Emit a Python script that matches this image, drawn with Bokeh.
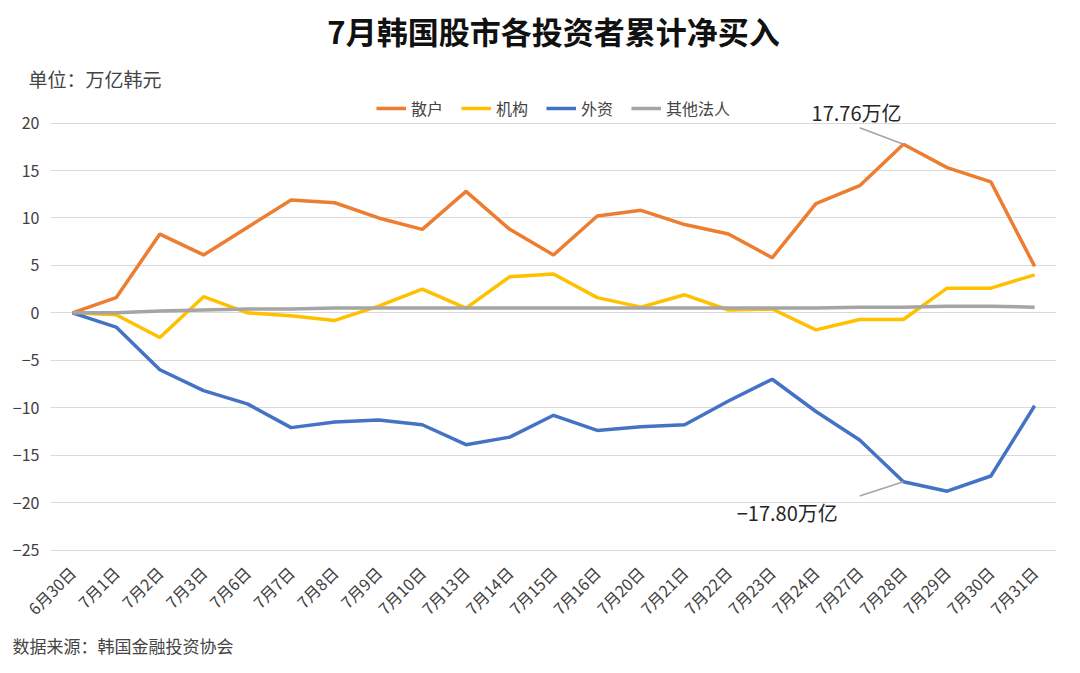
import math
from bokeh.plotting import figure
from bokeh.models import Title, Legend, LegendItem, Label, ColumnDataSource, FixedTicker, Range1d
from bokeh.embed import file_html
from bokeh.resources import INLINE

dates = ["6月30日","7月1日","7月2日","7月3日","7月6日","7月7日","7月8日","7月9日","7月10日","7月13日","7月14日","7月15日","7月16日","7月20日","7月21日","7月22日","7月23日","7月24日","7月27日","7月28日","7月29日","7月30日","7月31日"]
retail = [0, 1.6, 8.3, 6.1, 9.0, 11.9, 11.6, 10.0, 8.8, 12.8, 8.8, 6.1, 10.2, 10.8, 9.3, 8.3, 5.8, 11.5, 13.4, 17.76, 15.3, 13.8, 4.9]
inst = [0, -0.2, -2.6, 1.7, 0, -0.3, -0.8, 0.7, 2.5, 0.5, 3.8, 4.1, 1.6, 0.6, 1.9, 0.3, 0.4, -1.8, -0.7, -0.7, 2.6, 2.6, 4.0]
foreign = [0, -1.5, -6.0, -8.2, -9.6, -12.1, -11.5, -11.3, -11.8, -13.9, -13.1, -10.8, -12.4, -12.0, -11.8, -9.3, -7.0, -10.4, -13.4, -17.80, -18.8, -17.2, -9.8]
other = [0, 0, 0.2, 0.3, 0.4, 0.4, 0.5, 0.5, 0.5, 0.5, 0.5, 0.5, 0.5, 0.5, 0.5, 0.5, 0.5, 0.5, 0.6, 0.6, 0.7, 0.7, 0.6]
names = ["散户", "机构", "外资", "其他法人"]
colors = ["#ED7D31", "#FFC000", "#4472C4", "#A5A5A5"]

F = "Noto Sans CJK SC"
p = figure(width=1064, height=657, x_range=dates, y_range=Range1d(-26.0, 22.8),
           output_backend="svg", toolbar_location=None,
           min_border_left=50, min_border_right=8, min_border_bottom=0, min_border_top=5)
p.outline_line_color = None
renderers = []
for ys, c in zip([retail, inst, foreign, other], colors):
    renderers.append(p.line(dates, ys, line_color=c, line_width=3.5))

p.yaxis.ticker = FixedTicker(ticks=list(range(-25, 21, 5)))
p.xgrid.grid_line_color = None
p.ygrid.grid_line_color = "#D9D9D9"
for ax in (p.xaxis[0], p.yaxis[0]):
    ax.axis_line_color = None
    ax.major_tick_line_color = None
    ax.minor_tick_line_color = None
    ax.major_label_text_font = F
    ax.major_label_text_font_size = "16px"
    ax.major_label_text_color = "#404040"
p.xaxis.major_label_orientation = math.pi / 4
p.xaxis.major_label_standoff = 4

legend = Legend(items=[LegendItem(label=n, renderers=[r]) for n, r in zip(names, renderers)],
                orientation="horizontal", location="top_center", border_line_color=None,
                background_fill_alpha=0,
                label_text_font=F, label_text_font_size="16px", glyph_width=30,
                spacing=18, margin=0, padding=2)
p.add_layout(legend)
p.add_layout(Title(text="单位：万亿韩元", text_font=F, text_font_size="19px",
                   text_font_style="normal", align="left", offset=-22), "above")
p.add_layout(Title(text="7月韩国股市各投资者累计净买入", text_font=F, text_font_size="31px",
                   text_font_style="bold", align="center", text_color="#111111"), "above")
p.add_layout(Title(text="数据来源：韩国金融投资协会", text_font=F, text_font_size="17px",
                   text_font_style="normal", align="left", offset=-38, standoff=0), "below")

seg = ColumnDataSource(dict(x0=["7月28日", "7月28日"], y0=[17.76, -17.8], x1=["7月27日", "7月27日"], y1=[19.5, -19.3]))
p.segment("x0", "y0", "x1", "y1", source=seg, line_color="#A5A5A5", line_width=1.5)
p.add_layout(Label(x=17.4, y=19.6, text="17.76万亿", text_font=F, text_font_size="20px", text_color="#262626"))
p.add_layout(Label(x=18.0, y=-19.5, text="−17.80万亿", text_font=F, text_font_size="20px",
                   text_color="#262626", text_align="right", text_baseline="top"))

open("out.html", "w").write(file_html(p, INLINE))
